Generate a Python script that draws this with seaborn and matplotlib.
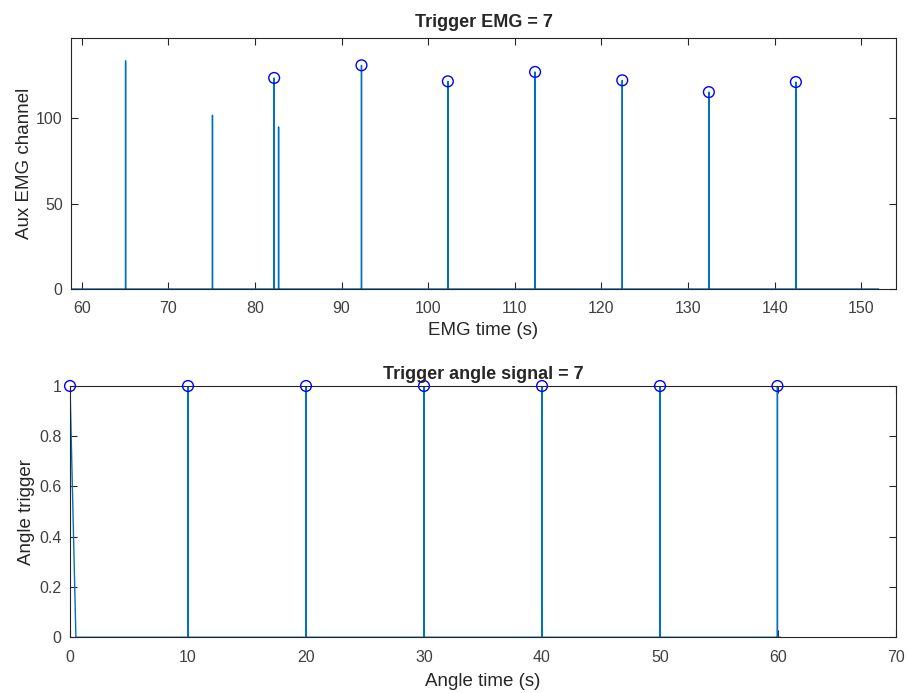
import numpy as np
import pandas as pd
import matplotlib
matplotlib.use("Agg")
import matplotlib.pyplot as plt
import seaborn as sns

# ---------------- data ----------------
# EMG aux channel: spike times (s) and heights
emg_start = 58.77
emg_end = 152.0
emg_spike_times = [65.07, 75.1, 82.22, 82.73, 92.3, 102.27, 112.34, 122.4, 132.4, 142.44]
emg_spike_heights = [133.6, 101.8, 123.6, 94.9, 131.0, 121.6, 127.1, 122.2, 115.3, 121.2]
# detected triggers (circles)
emg_peak_times = [82.22, 92.3, 102.27, 112.34, 122.4, 132.4, 142.44]
emg_peak_heights = [123.6, 131.0, 121.6, 127.1, 122.2, 115.3, 121.2]

# Angle trigger signal
angle_end = 60.2
angle_first_drop = 0.5
angle_spike_times = [10.0, 20.0, 30.0, 40.0, 50.0, 59.95]
angle_spike_heights = [1, 1, 1, 1, 1, 1]
angle_peak_times = [0.0, 10.0, 20.0, 30.0, 40.0, 50.0, 59.95]
angle_peak_heights = [1, 1, 1, 1, 1, 1, 1]

emg_xticks = [60, 70, 80, 90, 100, 110, 120, 130, 140, 150]
emg_yticks = [0, 50, 100]
angle_xticks = [0, 10, 20, 30, 40, 50, 60, 70]
angle_yticks = [0, 0.2, 0.4, 0.6, 0.8, 1]
angle_yticklabels = ["0", "0.2", "0.4", "0.6", "0.8", "1"]

# ---------------- build traces ----------------
d = 0.005
ex, ey = [emg_start], [0.0]
for t, h in zip(emg_spike_times, emg_spike_heights):
    ex += [t - d, t, t + d]
    ey += [0.0, h, 0.0]
ex.append(emg_end); ey.append(0.0)
emg_df = pd.DataFrame({"t": ex, "v": ey})

ax_, ay_ = [0.0, angle_first_drop], [1.0, 0.0]
for t, h in zip(angle_spike_times, angle_spike_heights):
    ax_ += [t - d, t, t + d]
    ay_ += [0.0, h, 0.0]
ax_.append(angle_end); ay_.append(0.0)
ang_df = pd.DataFrame({"t": ax_, "v": ay_})

# ---------------- style ----------------
sns.set_style("ticks")
plt.rcParams["font.family"] = ["Liberation Sans", "DejaVu Sans"]
grey = "#262626"
tick_grey = "#404040"
plt.rcParams.update({
    "xtick.direction": "in", "ytick.direction": "in",
    "xtick.top": True, "ytick.right": True,
    "xtick.color": grey, "ytick.color": grey,
    "xtick.labelcolor": tick_grey, "ytick.labelcolor": tick_grey,
    "axes.edgecolor": grey, "axes.linewidth": 0.8,
    "xtick.major.size": 5, "ytick.major.size": 5,
    "xtick.major.width": 0.8, "ytick.major.width": 0.8,
    "xtick.major.pad": 9, "ytick.major.pad": 6,
    "xtick.labelsize": 11.5, "ytick.labelsize": 11.5,
})

line_color = "#0072BD"
fig = plt.figure(figsize=(9.08, 6.93), dpi=100)
ax1 = fig.add_axes([0.0782, 0.583, 0.9086, 0.3622])
ax2 = fig.add_axes([0.0771, 0.0805, 0.9097, 0.3625])

label_fs = 13.5
title_fs = 13

# top
sns.lineplot(data=emg_df, x="t", y="v", sort=False, estimator=None, ax=ax1,
             color=line_color, lw=1.0)
sns.scatterplot(x=emg_peak_times, y=emg_peak_heights, ax=ax1, marker="o", s=60,
                facecolors="none", edgecolors="blue", linewidth=1.0, zorder=3)
ax1.set_xlim(58.77, 154.0)
ax1.set_ylim(0, 147)
ax1.set_xticks(emg_xticks)
ax1.set_yticks(emg_yticks)
ax1.set_xlabel("EMG time (s)", fontsize=label_fs, color=grey, labelpad=4)
ax1.set_ylabel("Aux EMG channel", fontsize=label_fs, color=grey, labelpad=2)
ax1.set_title("Trigger EMG = 7", fontsize=title_fs, fontweight="bold", pad=8)

# bottom
sns.lineplot(data=ang_df, x="t", y="v", sort=False, estimator=None, ax=ax2,
             color=line_color, lw=1.0)
sns.scatterplot(x=angle_peak_times, y=angle_peak_heights, ax=ax2, marker="o", s=60,
                facecolors="none", edgecolors="blue", linewidth=1.0, zorder=3,
                clip_on=False)
ax2.set_xlim(0, 70)
ax2.set_ylim(0, 1)
ax2.set_xticks(angle_xticks)
ax2.set_yticks(angle_yticks)
ax2.set_yticklabels(angle_yticklabels)
ax2.set_xlabel("Angle time (s)", fontsize=label_fs, color=grey, labelpad=6)
ax2.set_ylabel("Angle trigger", fontsize=label_fs, color=grey, labelpad=3)
ax2.set_title("Trigger angle signal = 7", fontsize=title_fs, fontweight="bold", pad=5)

for a in (ax1, ax2):
    for s in a.spines.values():
        s.set_visible(True)

fig.savefig("out.png", dpi=100)
